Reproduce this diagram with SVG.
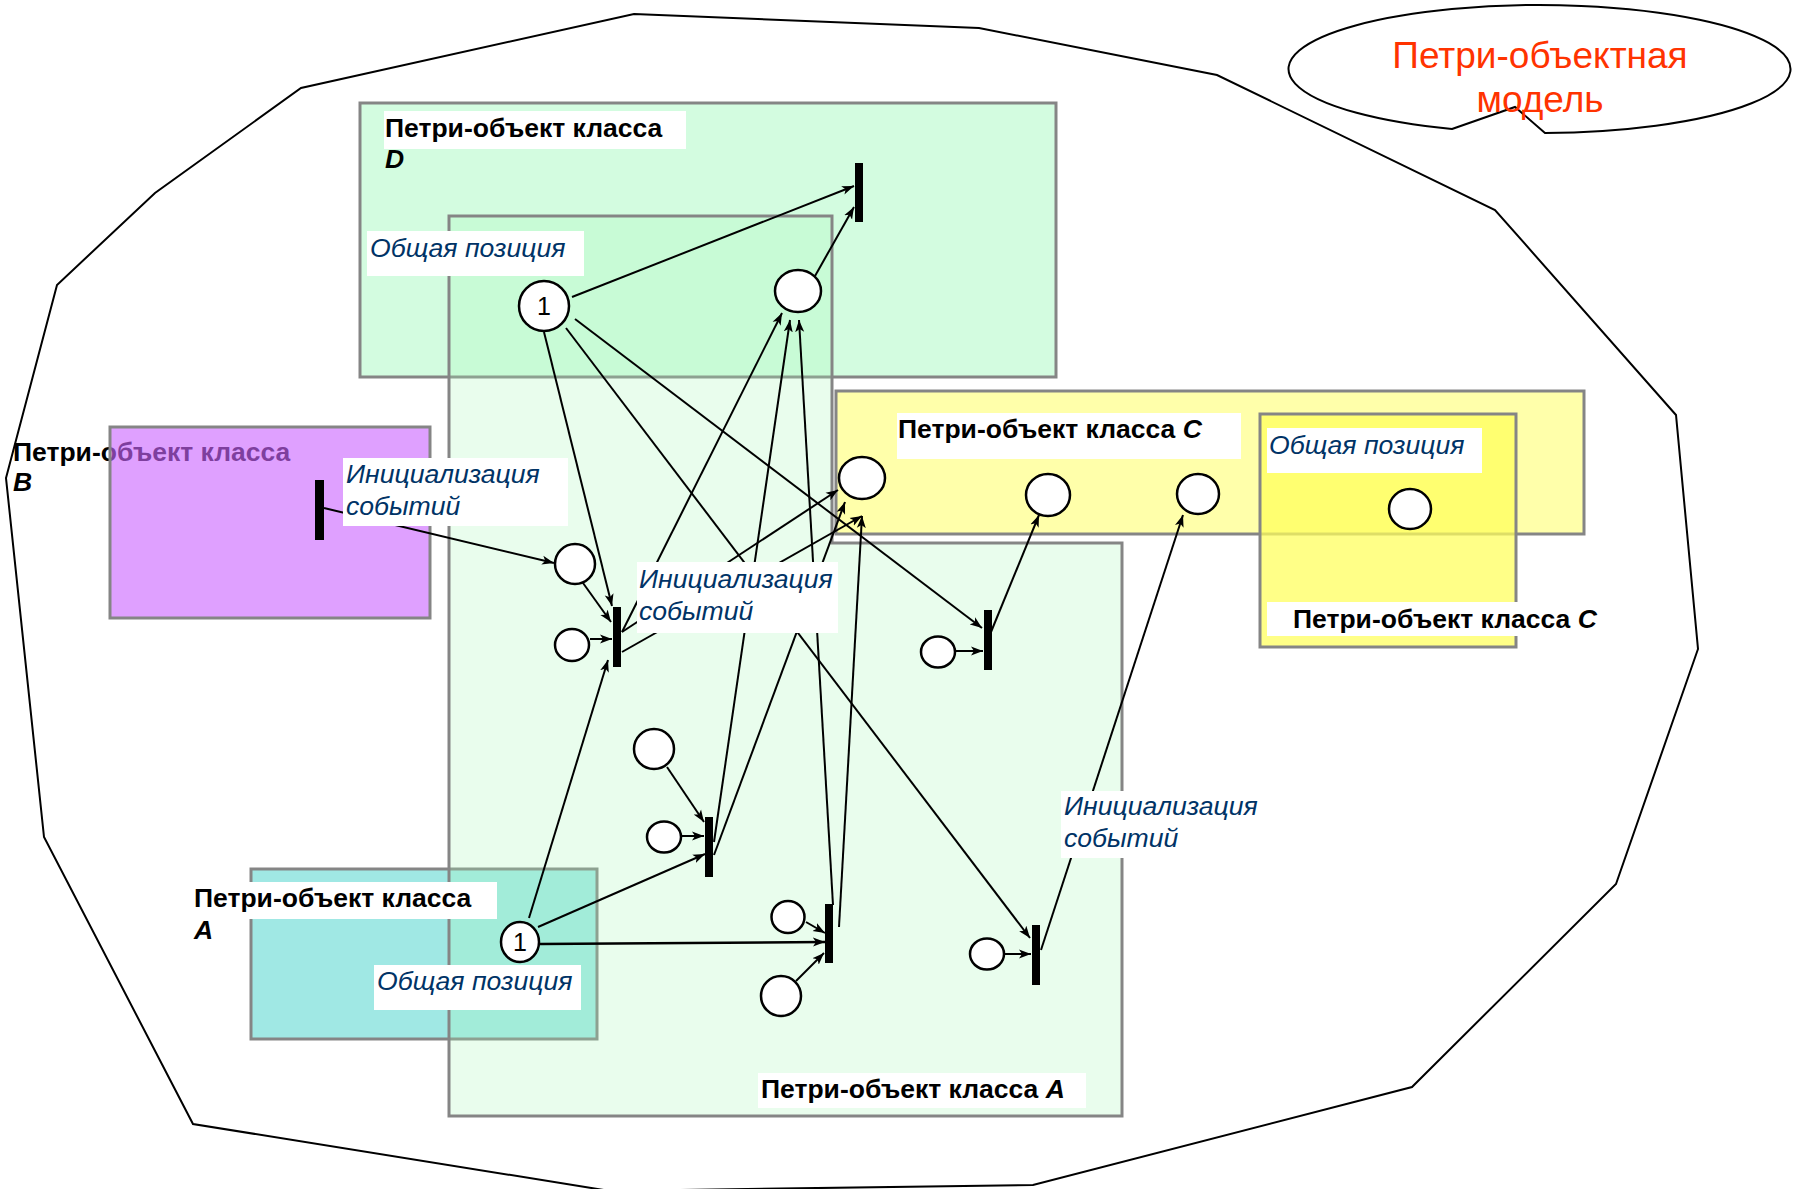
<svg xmlns="http://www.w3.org/2000/svg" width="1800" height="1189" viewBox="0 0 1800 1189">
<defs>
  <marker id="arrow" markerUnits="userSpaceOnUse" markerWidth="14" markerHeight="10" refX="12" refY="5" orient="auto">
    <path d="M0,0.5 L12,5 L0,9.5 L3,5 Z" fill="#000"/>
  </marker>
</defs>
<style>
  .frame{fill:none;stroke:#000;stroke-width:2}
  .box{stroke:#858585;stroke-width:3}
  .arc{fill:none;stroke:#000;stroke-width:2;marker-end:url(#arrow)}
  .place{fill:#fff;stroke:#000;stroke-width:2.5}
  .trans{fill:#000}
  .lbl{fill:#fff}
  .bold{font-family:"Liberation Sans",Arial,sans-serif;font-size:26.5px;font-weight:bold;fill:#000}
  .bi{font-style:italic}
  .ital{font-family:"Liberation Sans",Arial,sans-serif;font-size:26.6px;font-style:italic;fill:#003366}
  .tok{font-family:"Liberation Sans",Arial,sans-serif;font-size:25px;fill:#000;text-anchor:middle}
  .title{font-family:"Liberation Sans",Arial,sans-serif;font-size:37px;fill:#FF3300;text-anchor:middle}
</style>

<!-- outer boundary of the model -->
<polygon id="model-boundary" class="frame" points="634,14 979,28 1217,75 1495,210 1676,415 1698,649 1616,884 1412,1087 1033,1185 610,1191 193,1124 44,837 6,478 57,285 155,193 301,88"/>

<!-- callout with the model name -->
<g id="callout">
  <path class="frame" d="M1452,129 L1515,107 L1545,133 A251,64 0 1 0 1452,129 Z"/>
  <text class="title" x="1540" y="68">Петри-объектная</text>
  <text class="title" x="1540" y="112">модель</text>
</g>

<!-- class regions -->
<g id="region-D"><rect class="box" x="360" y="103" width="696" height="274" fill="#D3FCE0"/></g>
<g id="region-A-small"><rect class="box" x="251" y="869" width="346" height="170" fill="#A0E8E4"/></g>
<g id="region-A"><polygon class="box" points="449,216 832,216 832,543 1122,543 1122,1116 449,1116" fill="#A9F6B6" fill-opacity="0.25"/></g>
<g id="region-C"><rect class="box" x="836" y="391" width="748" height="143" fill="#FFFFAA"/></g>
<g id="region-C-inner"><rect class="box" x="1260" y="414" width="256" height="233" fill="#FFFF5B" fill-opacity="0.73"/></g>
<g id="region-B">
  <text class="bold" x="13" y="461">Петри-объект класса</text>
  <text class="bold bi" x="13" y="491">B</text>
  <rect class="box" x="110" y="427" width="320" height="191" fill="#CC66FF" fill-opacity="0.62"/>
</g>

<!-- arcs -->
<g id="connectors">
  <line class="arc" x1="572" y1="297" x2="854" y2="186"/>
  <line class="arc" x1="815" y1="276" x2="854" y2="207"/>
  <line class="arc" x1="544" y1="332" x2="612" y2="606"/>
  <line class="arc" x1="575" y1="319" x2="982" y2="628"/>
  <line class="arc" x1="566" y1="328" x2="1030" y2="938"/>
  <line class="arc" x1="324" y1="508" x2="554" y2="563"/>
  <line class="arc" x1="583" y1="583" x2="611" y2="622"/>
  <line class="arc" x1="590" y1="639" x2="612" y2="639"/>
  <line class="arc" x1="529" y1="918" x2="608" y2="660"/>
  <line class="arc" x1="622" y1="632" x2="782" y2="313"/>
  <line class="arc" x1="622" y1="632" x2="838" y2="490"/>
  <line class="arc" x1="622" y1="652" x2="862" y2="516"/>
  <line class="arc" x1="714" y1="842" x2="790" y2="320"/>
  <line class="arc" x1="714" y1="855" x2="845" y2="502"/>
  <line class="arc" x1="667" y1="767" x2="704" y2="822"/>
  <line class="arc" x1="682" y1="836" x2="704" y2="836"/>
  <line class="arc" x1="538" y1="927" x2="705" y2="854"/>
  <line class="arc" x1="833" y1="905" x2="799" y2="320"/>
  <line class="arc" x1="839" y1="927" x2="862" y2="516"/>
  <line class="arc" x1="806" y1="922" x2="825" y2="933"/>
  <line class="arc" x1="540" y1="944" x2="825" y2="942" style="stroke-width:2.5"/>
  <line class="arc" x1="796" y1="981" x2="824" y2="953"/>
  <line class="arc" x1="1005" y1="954" x2="1031" y2="954"/>
  <line class="arc" x1="1041" y1="950" x2="1183" y2="515"/>
  <line class="arc" x1="956" y1="651" x2="983" y2="651"/>
  <line class="arc" x1="991" y1="632" x2="1039" y2="515"/>
</g>

<!-- places -->
<g id="place-D1"><circle class="place" cx="544" cy="306" r="25"/><text class="tok" x="544" y="315">1</text></g>
<g id="place-D2"><ellipse class="place" cx="798" cy="291" rx="23" ry="21"/></g>
<g id="place-C1"><ellipse class="place" cx="862" cy="478" rx="23" ry="21"/></g>
<g id="place-C2"><ellipse class="place" cx="1048" cy="495" rx="22" ry="21"/></g>
<g id="place-C3"><ellipse class="place" cx="1198" cy="494" rx="21" ry="20"/></g>
<g id="place-C4"><ellipse class="place" cx="1410" cy="509" rx="21" ry="20"/></g>
<g id="place-B"><circle class="place" cx="575" cy="564" r="20"/></g>
<g id="place-s1"><ellipse class="place" cx="572" cy="645" rx="17" ry="16"/></g>
<g id="place-m1"><circle class="place" cx="654" cy="749" r="20"/></g>
<g id="place-m2"><ellipse class="place" cx="664" cy="837" rx="17" ry="15.5"/></g>
<g id="place-m3"><ellipse class="place" cx="788" cy="917" rx="16.5" ry="16"/></g>
<g id="place-m4"><circle class="place" cx="781" cy="996" r="20"/></g>
<g id="place-r1"><ellipse class="place" cx="987" cy="954" rx="17" ry="15.5"/></g>
<g id="place-mid"><ellipse class="place" cx="938" cy="652" rx="17" ry="15.5"/></g>
<g id="place-A1"><ellipse class="place" cx="520" cy="942" rx="19" ry="20"/><text class="tok" x="520" y="951">1</text></g>

<!-- transitions -->
<g id="trans-D"><rect class="trans" x="855" y="163" width="8" height="59"/></g>
<g id="trans-B"><rect class="trans" x="315" y="480" width="9" height="60"/></g>
<g id="trans-1"><rect class="trans" x="613" y="607" width="8" height="60"/></g>
<g id="trans-2"><rect class="trans" x="705" y="817" width="8" height="60"/></g>
<g id="trans-3"><rect class="trans" x="825" y="904" width="8" height="59"/></g>
<g id="trans-4"><rect class="trans" x="1032" y="925" width="8" height="60"/></g>
<g id="trans-5"><rect class="trans" x="984" y="610" width="8" height="60"/></g>

<!-- labels -->
<g id="label-D">
  <rect class="lbl" x="384" y="111" width="302" height="38"/>
  <text class="bold" x="385" y="137">Петри-объект класса</text>
  <text class="bold bi" x="385" y="168">D</text>
</g>
<g id="label-D-shared">
  <rect class="lbl" x="367" y="231" width="217" height="45"/>
  <text class="ital" x="370" y="257">Общая позиция</text>
</g>
<g id="label-B-init">
  <rect class="lbl" x="343" y="458" width="225" height="68"/>
  <text class="ital" x="346" y="483">Инициализация</text>
  <text class="ital" x="346" y="515">событий</text>
</g>
<g id="label-center-init">
  <rect class="lbl" x="637" y="562" width="201" height="71"/>
  <text class="ital" x="639" y="588">Инициализация</text>
  <text class="ital" x="639" y="620">событий</text>
</g>
<g id="label-C">
  <rect class="lbl" x="897" y="413" width="344" height="46"/>
  <text class="bold" x="898" y="438">Петри-объект класса <tspan class="bi">C</tspan></text>
</g>
<g id="label-C-shared">
  <rect class="lbl" x="1267" y="428" width="215" height="45"/>
  <text class="ital" x="1269" y="454">Общая позиция</text>
</g>
<g id="label-C-inner">
  <rect class="lbl" x="1267" y="602" width="340" height="34"/>
  <text class="bold" x="1293" y="628">Петри-объект класса <tspan class="bi">C</tspan></text>
</g>
<g id="label-A-small">
  <rect class="lbl" x="191" y="882" width="306" height="37"/>
  <text class="bold" x="194" y="907">Петри-объект класса</text>
  <text class="bold bi" x="194" y="939">A</text>
</g>
<g id="label-A-shared">
  <rect class="lbl" x="374" y="965" width="207" height="45"/>
  <text class="ital" x="377" y="990">Общая позиция</text>
</g>
<g id="label-right-init">
  <rect class="lbl" x="1061" y="791" width="200" height="67"/>
  <text class="ital" x="1064" y="815">Инициализация</text>
  <text class="ital" x="1064" y="847">событий</text>
</g>
<g id="label-A">
  <rect class="lbl" x="758" y="1073" width="328" height="35"/>
  <text class="bold" x="761" y="1098">Петри-объект класса <tspan class="bi">A</tspan></text>
</g>
</svg>
